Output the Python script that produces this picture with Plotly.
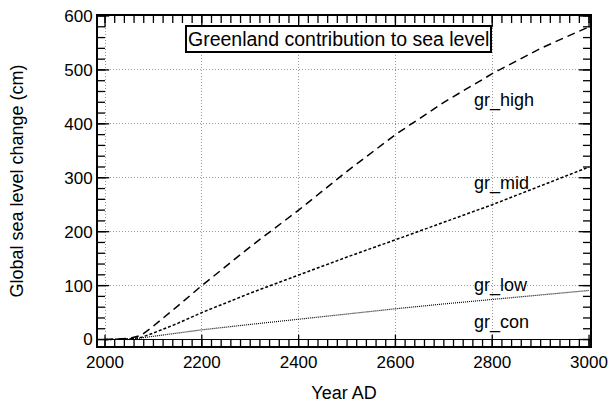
import plotly.graph_objects as go

years = [2000, 2025, 2050, 2075, 2100, 2150, 2200, 2300, 2400, 2500, 2600, 2700, 2800, 2900, 3000]
gr_high = [0, 0.5, 2, 8, 25, 62, 100, 172, 240, 312, 380, 440, 493, 540, 580]
gr_mid = [0, 0.3, 1, 4, 12, 30, 50, 86, 120, 153, 185, 218, 250, 285, 320]
gr_low = [0, 0.2, 1, 3, 6, 12, 18, 28, 38, 47, 57, 66, 74, 83, 91]
gr_con = [0, 0, 0, 0, 0, 0, 0, 0, 0, 0, 0, 0, 0, 0, 0]

labels = ["gr_high", "gr_mid", "gr_low", "gr_con"]
label_y = [444, 290, 101, 31]
title_text = "Greenland contribution to sea level"

x_range = [1985.5, 3002]
y_range = [-12, 600]
x_major = list(range(2000, 3001, 200))
x_minor = list(range(2000, 3001, 20))
y_major = list(range(0, 601, 100))
y_minor = list(range(0, 601, 20))

fig = go.Figure()
fig.add_trace(go.Scatter(x=years, y=gr_con, mode="lines", line=dict(color="black", width=1)))
fig.add_trace(go.Scatter(x=years, y=gr_low, mode="lines", line=dict(color="black", width=1.2, dash="1px,1px")))
fig.add_trace(go.Scatter(x=years, y=gr_mid, mode="lines", line=dict(color="black", width=1.5, dash="3px,2px")))
fig.add_trace(go.Scatter(x=years, y=gr_high, mode="lines", line=dict(color="black", width=1.5, dash="8px,5px")))


def tick_trace(xs, ys, symbol, size):
    # tick marks centred on the frame edge; the half outside the plot area is clipped
    return go.Scatter(x=xs, y=ys, mode="markers", cliponaxis=True, hoverinfo="skip",
                      marker=dict(symbol=symbol, size=size, color="black",
                                  line=dict(color="black", width=1.3)))


for edge_y in y_range:
    fig.add_trace(tick_trace(x_minor, [edge_y] * len(x_minor), "line-ns", 10))
    fig.add_trace(tick_trace(x_major, [edge_y] * len(x_major), "line-ns", 16))
for edge_x in x_range:
    fig.add_trace(tick_trace([edge_x] * len(y_minor), y_minor, "line-ew", 10))
    fig.add_trace(tick_trace([edge_x] * len(y_major), y_major, "line-ew", 16))

for t, yv in zip(labels, label_y):
    fig.add_annotation(x=2758, y=yv, text=t, showarrow=False, xanchor="left", yanchor="middle",
                       font=dict(size=18, color="black"))

fig.add_annotation(x=2482, y=557, text=title_text, showarrow=False, xanchor="center", yanchor="middle",
                   font=dict(size=19.5, color="black"), bordercolor="black", borderwidth=2, borderpad=1,
                   bgcolor="white")

axis_common = dict(showline=True, linecolor="black", linewidth=2, mirror=True, ticks="",
                   showgrid=True, gridcolor="#999", griddash="1px,2px", gridwidth=1,
                   zeroline=False, automargin=False, tickfont=dict(size=17, color="black"))

fig.update_layout(
    xaxis=dict(range=x_range, tickvals=x_major,
               title=dict(text="Year AD", font=dict(size=18, color="black"), standoff=22),
               **axis_common),
    yaxis=dict(range=y_range, tickvals=y_major,
               title=dict(text="Global sea level change (cm)", font=dict(size=18, color="black"), standoff=36),
               **axis_common),
    width=609, height=403, margin=dict(l=98, r=19, t=16, b=57),
    paper_bgcolor="white", plot_bgcolor="white", showlegend=False,
    font=dict(family="Liberation Sans, Arial, sans-serif", color="black"))

fig.write_html("out.html")
